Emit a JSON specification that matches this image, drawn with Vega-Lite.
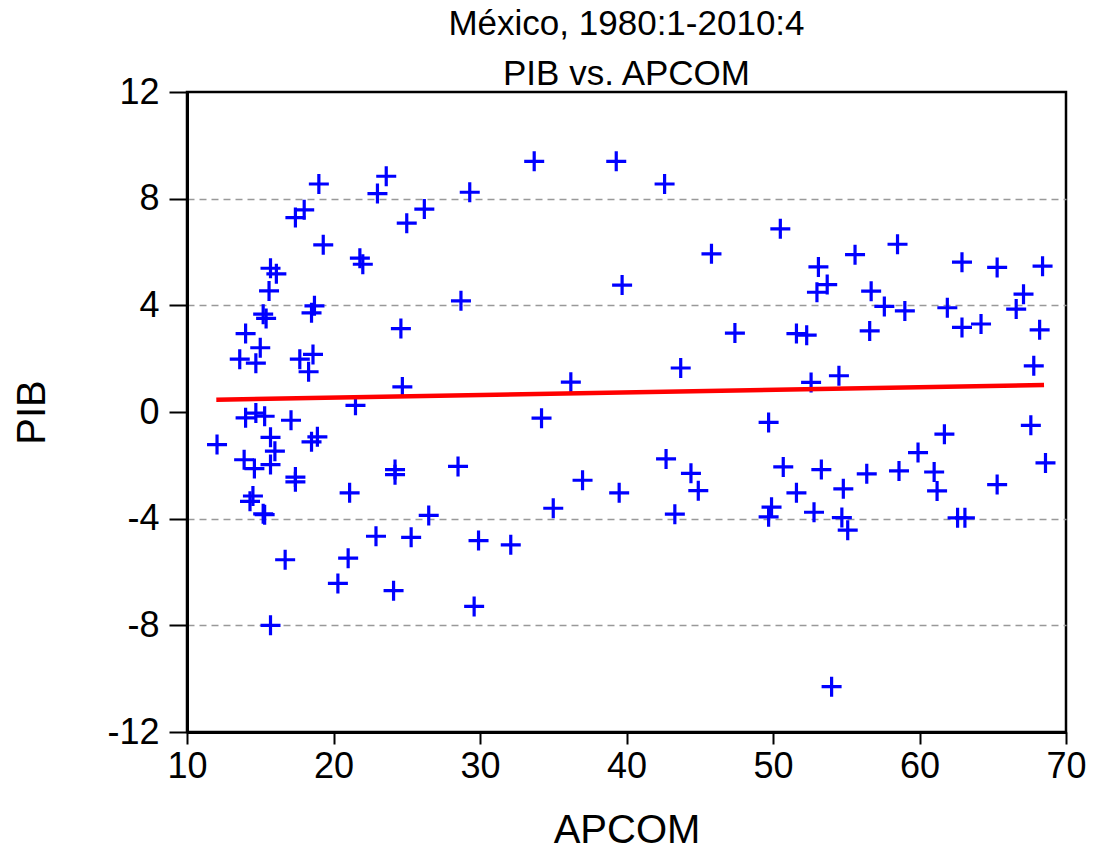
{
  "$schema": "https://vega.github.io/schema/vega-lite/v6.json",
  "width": 879,
  "height": 640,
  "autosize": {"type": "none"},
  "padding": {"left": 187, "top": 92, "right": 32, "bottom": 118},
  "background": "white",
  "config": {
    "view": {"stroke": "black", "strokeWidth": 2.5},
    "font": "Liberation Sans"
  },
  "title": {
    "text": ["México, 1980:1-2010:4", "PIB vs. APCOM"],
    "fontSize": 35,
    "font": "Liberation Sans",
    "fontWeight": "normal",
    "color": "black",
    "lineHeight": 50,
    "frame": "group",
    "anchor": "middle",
    "offset": -18
  },
  "datasets": {
    "pts": [
      {"APCOM": 19.0, "PIB": 8.55}, {"APCOM": 23.6, "PIB": 8.84}, {"APCOM": 23.0, "PIB": 8.19}, {"APCOM": 29.3, "PIB": 8.24},
      {"APCOM": 18.0, "PIB": 7.58}, {"APCOM": 17.4, "PIB": 7.29}, {"APCOM": 26.2, "PIB": 7.61}, {"APCOM": 25.0, "PIB": 7.08},
      {"APCOM": 19.3, "PIB": 6.27}, {"APCOM": 21.8, "PIB": 5.77}, {"APCOM": 22.0, "PIB": 5.54}, {"APCOM": 15.7, "PIB": 5.39},
      {"APCOM": 16.1, "PIB": 5.18}, {"APCOM": 15.6, "PIB": 4.54}, {"APCOM": 28.7, "PIB": 4.17}, {"APCOM": 18.7, "PIB": 3.98},
      {"APCOM": 18.5, "PIB": 3.72}, {"APCOM": 15.2, "PIB": 3.67}, {"APCOM": 15.4, "PIB": 3.51}, {"APCOM": 24.6, "PIB": 3.13},
      {"APCOM": 14.0, "PIB": 2.94}, {"APCOM": 15.0, "PIB": 2.41}, {"APCOM": 13.6, "PIB": 1.98}, {"APCOM": 14.7, "PIB": 1.83},
      {"APCOM": 17.7, "PIB": 1.98}, {"APCOM": 18.6, "PIB": 2.16}, {"APCOM": 18.3, "PIB": 1.51}, {"APCOM": 24.7, "PIB": 0.94},
      {"APCOM": 21.5, "PIB": 0.25},
      {"APCOM": 14.0, "PIB": -0.22}, {"APCOM": 14.7, "PIB": -0.04}, {"APCOM": 15.3, "PIB": -0.16}, {"APCOM": 17.1, "PIB": -0.31},
      {"APCOM": 12.05, "PIB": -1.22}, {"APCOM": 15.7, "PIB": -0.95}, {"APCOM": 18.5, "PIB": -1.12}, {"APCOM": 18.9, "PIB": -0.93},
      {"APCOM": 16.0, "PIB": -1.47}, {"APCOM": 13.9, "PIB": -1.79}, {"APCOM": 14.6, "PIB": -2.12}, {"APCOM": 15.7, "PIB": -1.97},
      {"APCOM": 17.4, "PIB": -2.44}, {"APCOM": 17.4, "PIB": -2.62}, {"APCOM": 14.5, "PIB": -3.15}, {"APCOM": 14.3, "PIB": -3.35},
      {"APCOM": 15.3, "PIB": -3.85}, {"APCOM": 15.2, "PIB": -3.82}, {"APCOM": 21.1, "PIB": -3.03}, {"APCOM": 24.2, "PIB": -2.16},
      {"APCOM": 24.2, "PIB": -2.35}, {"APCOM": 28.5, "PIB": -2.04}, {"APCOM": 26.5, "PIB": -3.88}, {"APCOM": 22.9, "PIB": -4.66},
      {"APCOM": 25.3, "PIB": -4.70}, {"APCOM": 29.9, "PIB": -4.82}, {"APCOM": 16.7, "PIB": -5.54}, {"APCOM": 21.0, "PIB": -5.48},
      {"APCOM": 20.3, "PIB": -6.43}, {"APCOM": 24.1, "PIB": -6.70}, {"APCOM": 29.6, "PIB": -7.29}, {"APCOM": 15.7, "PIB": -8.00},
      {"APCOM": 33.7, "PIB": 9.40}, {"APCOM": 39.3, "PIB": 9.40}, {"APCOM": 42.6, "PIB": 8.55}, {"APCOM": 45.8, "PIB": 5.93},
      {"APCOM": 39.7, "PIB": 4.76}, {"APCOM": 47.4, "PIB": 2.96}, {"APCOM": 43.7, "PIB": 1.65}, {"APCOM": 36.2, "PIB": 1.12},
      {"APCOM": 50.5, "PIB": 6.87},
      {"APCOM": 34.2, "PIB": -0.23}, {"APCOM": 49.7, "PIB": -0.39}, {"APCOM": 42.7, "PIB": -1.76}, {"APCOM": 44.4, "PIB": -2.30},
      {"APCOM": 37.0, "PIB": -2.56}, {"APCOM": 44.9, "PIB": -2.95}, {"APCOM": 39.5, "PIB": -3.03}, {"APCOM": 35.0, "PIB": -3.61},
      {"APCOM": 43.3, "PIB": -3.83}, {"APCOM": 49.9, "PIB": -3.57}, {"APCOM": 49.7, "PIB": -3.93}, {"APCOM": 32.1, "PIB": -4.98},
      {"APCOM": 58.5, "PIB": 6.29}, {"APCOM": 55.6, "PIB": 5.90}, {"APCOM": 53.1, "PIB": 5.44}, {"APCOM": 62.9, "PIB": 5.62},
      {"APCOM": 65.3, "PIB": 5.42}, {"APCOM": 68.4, "PIB": 5.47}, {"APCOM": 53.7, "PIB": 4.78}, {"APCOM": 53.0, "PIB": 4.49},
      {"APCOM": 56.7, "PIB": 4.53}, {"APCOM": 57.6, "PIB": 3.96}, {"APCOM": 59.0, "PIB": 3.79}, {"APCOM": 61.9, "PIB": 3.91},
      {"APCOM": 67.1, "PIB": 4.42}, {"APCOM": 66.6, "PIB": 3.86}, {"APCOM": 51.6, "PIB": 2.94}, {"APCOM": 52.3, "PIB": 2.88},
      {"APCOM": 56.6, "PIB": 3.04}, {"APCOM": 62.9, "PIB": 3.17}, {"APCOM": 64.2, "PIB": 3.30}, {"APCOM": 68.2, "PIB": 3.08},
      {"APCOM": 67.8, "PIB": 1.73}, {"APCOM": 52.6, "PIB": 1.11}, {"APCOM": 54.5, "PIB": 1.36},
      {"APCOM": 67.6, "PIB": -0.50}, {"APCOM": 61.7, "PIB": -0.83}, {"APCOM": 59.9, "PIB": -1.52}, {"APCOM": 68.6, "PIB": -1.91},
      {"APCOM": 50.7, "PIB": -2.06}, {"APCOM": 53.3, "PIB": -2.16}, {"APCOM": 56.4, "PIB": -2.32}, {"APCOM": 58.6, "PIB": -2.21},
      {"APCOM": 61.0, "PIB": -2.25}, {"APCOM": 61.2, "PIB": -2.96}, {"APCOM": 54.8, "PIB": -2.88}, {"APCOM": 51.6, "PIB": -3.03},
      {"APCOM": 65.3, "PIB": -2.72}, {"APCOM": 52.8, "PIB": -3.76}, {"APCOM": 54.7, "PIB": -3.96}, {"APCOM": 55.1, "PIB": -4.43},
      {"APCOM": 62.6, "PIB": -3.97}, {"APCOM": 63.1, "PIB": -3.97}, {"APCOM": 54.0, "PIB": -10.30}
    ],
    "fit": [
      {"APCOM": 12.0, "PIB": 0.46},
      {"APCOM": 68.5, "PIB": 1.01}
    ]
  },
  "layer": [
    {
      "data": {"name": "pts"},
      "mark": {"type": "point", "shape": "M-1,0L1,0M0,-1L0,1", "filled": false, "stroke": "#0000ff", "strokeWidth": 3.2, "size": 400, "opacity": 1},
      "encoding": {
        "x": {
          "field": "APCOM", "type": "quantitative",
          "scale": {"domain": [10, 70], "nice": false, "zero": false},
          "axis": {
            "title": "APCOM", "values": [10, 20, 30, 40, 50, 60, 70], "grid": false,
            "labelExpr": "toString(datum.value)",
            "domainColor": "black", "domainWidth": 3, "tickColor": "black", "tickWidth": 2, "tickSize": 12,
            "labelFontSize": 36, "labelColor": "black", "labelPadding": 5, "labelFlush": false, "labelFont": "Liberation Sans",
            "titleFontSize": 40, "titleFontWeight": "normal", "titleColor": "black", "titlePadding": 26, "titleFont": "Liberation Sans"
          }
        },
        "y": {
          "field": "PIB", "type": "quantitative",
          "scale": {"domain": [-12, 12], "nice": false, "zero": false},
          "axis": {
            "title": "PIB", "values": [-12, -8, -4, 0, 4, 8, 12], "grid": true,
            "labelExpr": "toString(datum.value)",
            "gridDash": [7, 5], "gridColor": "#999999", "gridWidth": 1.5,
            "gridOpacity": {"condition": {"test": "datum.value === 0 || abs(datum.value) === 12", "value": 0}, "value": 1},
            "domainColor": "black", "domainWidth": 3, "tickColor": "black", "tickWidth": 2, "tickSize": 18,
            "labelFontSize": 36, "labelColor": "black", "labelPadding": 10, "labelFlush": false, "labelOverlap": false, "labelFont": "Liberation Sans",
            "titleFontSize": 40, "titleFontWeight": "normal", "titleColor": "black", "titlePadding": 54, "titleFont": "Liberation Sans"
          }
        }
      }
    },
    {
      "mark": {"type": "rule", "color": "black", "strokeWidth": 1.5},
      "encoding": {"y": {"datum": 0}}
    },
    {
      "data": {"name": "fit"},
      "mark": {"type": "line", "color": "#ff0000", "strokeWidth": 4.5},
      "encoding": {
        "x": {"field": "APCOM", "type": "quantitative"},
        "y": {"field": "PIB", "type": "quantitative"}
      }
    }
  ]
}
